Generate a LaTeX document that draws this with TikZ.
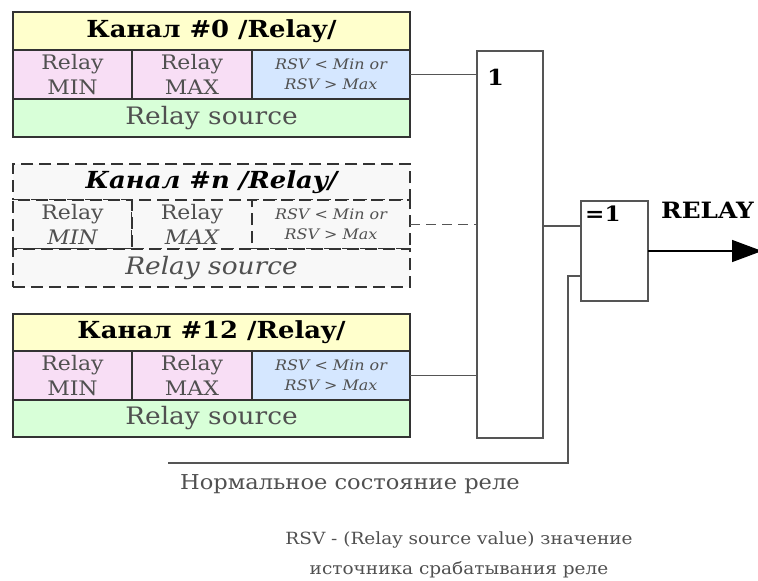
\documentclass[tikz,border=0pt]{standalone}
\usepackage{fontspec}
\setmainfont[FakeStretch=1.1]{DejaVu Serif}
\usetikzlibrary{arrows.meta}
\definecolor{hdrc}{HTML}{FFFFCC}
\definecolor{pinkc}{HTML}{F8DEF5}
\definecolor{bluec}{HTML}{D5E7FF}
\definecolor{greenc}{HTML}{D8FFD8}
\definecolor{grayc}{HTML}{F8F8F8}
\definecolor{bordc}{HTML}{333333}
\definecolor{wirec}{HTML}{555555}
\definecolor{txtc}{HTML}{505050}
\begin{document}
\begin{tikzpicture}[x=1pt,y=-1pt,
  cellbox/.style={draw=bordc, line width=1.3pt, inner sep=0pt, outer sep=0pt, anchor=north west, align=center},
  dashbox/.style={cellbox, dash pattern=on 12pt off 6pt, fill=grayc},
  hdrtxt/.style={font=\fontsize{23.5}{27}\selectfont\bfseries},
  midtxt/.style={font=\fontsize{20}{25}\selectfont, text=txtc},
  rsvtxt/.style={font=\fontsize{14.5}{20}\selectfont\itshape, text=txtc},
  srctxt/.style={font=\fontsize{24}{28}\selectfont, text=txtc},
  wire/.style={draw=wirec, line width=1.5pt},
  gate/.style={draw=wirec, line width=1.5pt, inner sep=0pt, outer sep=0pt, anchor=north west}]
\useasboundingbox (0,0) rectangle (758,581);

% Block 0
\node[cellbox, fill=hdrc, minimum width=397pt, minimum height=38pt, hdrtxt] (h0) at (13,12) {Канал \#0 /Relay/};
\node[cellbox, fill=pinkc, minimum width=119pt, minimum height=49pt, midtxt] (a0) at (13,50) {Relay\\MIN};
\node[cellbox, fill=pinkc, minimum width=120pt, minimum height=49pt, midtxt] (b0) at (132,50) {Relay\\MAX};
\node[cellbox, fill=bluec, minimum width=158pt, minimum height=49pt, rsvtxt] (c0) at (252,50) {RSV < Min or\\RSV > Max};
\node[cellbox, fill=greenc, minimum width=397pt, minimum height=38pt, srctxt] (s0) at (13,99) {Relay source};

% Block n (dashed)
\node[dashbox, minimum width=397pt, minimum height=36pt, hdrtxt] (h1) at (13,164) {\itshape Канал \#n /Relay/};
\node[dashbox, minimum width=119pt, minimum height=49pt, midtxt] (a1) at (13,200) {Relay\\\itshape MIN};
\node[dashbox, minimum width=120pt, minimum height=49pt, midtxt] (b1) at (132,200) {Relay\\\itshape MAX};
\node[dashbox, minimum width=158pt, minimum height=49pt, rsvtxt] (c1) at (252,200) {RSV < Min or\\RSV > Max};
\node[dashbox, minimum width=397pt, minimum height=38pt, srctxt] (s1) at (13,249) {\itshape Relay source};

% Block 12
\node[cellbox, fill=hdrc, minimum width=397pt, minimum height=37pt, hdrtxt] (h2) at (13,314) {Канал \#12 /Relay/};
\node[cellbox, fill=pinkc, minimum width=119pt, minimum height=49pt, midtxt] (a2) at (13,351) {Relay\\MIN};
\node[cellbox, fill=pinkc, minimum width=120pt, minimum height=49pt, midtxt] (b2) at (132,351) {Relay\\MAX};
\node[cellbox, fill=bluec, minimum width=158pt, minimum height=49pt, rsvtxt] (c2) at (252,351) {RSV < Min or\\RSV > Max};
\node[cellbox, fill=greenc, minimum width=397pt, minimum height=37pt, srctxt] (s2) at (13,400) {Relay source};

% Gates
\node[gate, minimum width=66pt, minimum height=387pt] (or) at (477,51) {};
\node[font=\fontsize{22}{24}\selectfont\bfseries, anchor=north west, inner sep=0pt] (orl) at (487,69) {1};
\node[gate, minimum width=67pt, minimum height=100pt] (xor) at (581,201) {};
\node[font=\fontsize{21}{24}\selectfont\bfseries, anchor=north west, inner sep=0pt] (xorl) at (585,206) {=1};
\node[font=\fontsize{22.5}{26}\selectfont\bfseries, anchor=north west, inner sep=0pt] (relay) at (661,202) {RELAY};

% Connectors
\draw[wire] (c0.east) -- (c0.east -| or.west);
\draw[wire, dash pattern=on 10pt off 6pt] (c1.east) -- (c1.east -| or.west);
\draw[wire] (c2.east) -- (c2.east -| or.west);
\coordinate (orout) at (543,226);
\draw[wire] (orout) -- (orout -| xor.west);
\coordinate (nrm) at (168,463);
\coordinate (nrmc) at (568,463);
\coordinate (xin) at (581,276);
\draw[wire] (nrm) -- (nrmc) |- (xin);
\coordinate (outend) at (762,251);
\draw[wire, -{Triangle[length=30pt,width=22pt]}, color=black] (xor.east) -- (outend);

% Texts
\node[font=\fontsize{20.5}{26}\selectfont, text=txtc] (nrmtxt) at (350,484) {Нормальное состояние реле};
\node[font=\fontsize{16.8}{30}\selectfont, text=txtc, align=center] (note) at (459,555) {RSV - (Relay source value) значение\\источника срабатывания реле};
\end{tikzpicture}
\end{document}
